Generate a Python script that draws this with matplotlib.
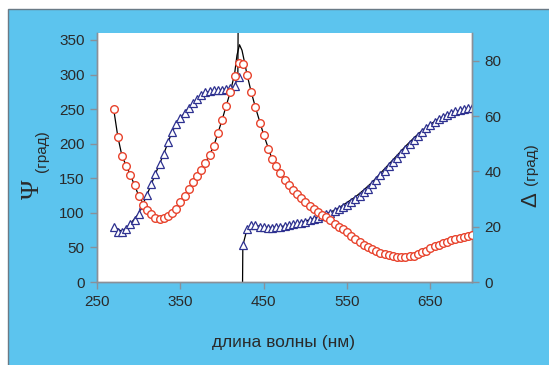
from matplotlib import pyplot as plt
from matplotlib.patches import Rectangle

# measured points, 5 nm step
wl = list(range(270, 705, 5))

psi = [250, 210, 182, 168, 155, 140, 125, 112, 104, 98,
       93, 91, 92, 96, 100, 106, 115, 124, 134, 144,
       153, 162, 172, 184, 196, 215, 234, 255, 275, 298,
       316, 315, 300, 275, 253, 230, 213, 193, 178, 168,
       158, 148, 140, 133, 127, 121, 115, 110, 106, 101,
       97, 93.5, 89, 84, 79.5, 76, 72, 67, 62, 58,
       54, 50.5, 47.5, 44.5, 42, 40, 38.5, 37, 36.5, 35.7,
       36, 37, 38, 40.5, 43, 45.5, 49, 51.5, 54, 56.5,
       58.5, 61, 62, 63.5, 65, 66.5, 67.5]

delta = [80, 73, 73, 77, 84, 90, 99, 111, 126, 142,
         156, 170, 185, 202, 217, 228, 237, 245, 252, 259,
         264, 270, 274, 276, 277, 278, 278, 279, 280, 283,
         296, 53, 76, 82, 82, 80, 79, 78.5, 78.5, 79,
         80, 81, 82, 83.5, 85, 86, 87, 89, 91, 93,
         95, 98, 100, 103, 106, 109, 112, 116, 120, 125,
         130, 135, 141, 147, 154, 160, 167, 173, 180, 186,
         193, 199, 205, 211, 217, 222, 227, 232, 236, 239,
         242, 245, 247, 249, 250, 251, 252]

# model curves
wl_fit_psi = [270, 275, 280, 290, 300, 310, 320, 330, 340, 350,
              360, 370, 380, 390, 400, 410, 415, 418, 421, 424,
              427, 430, 435, 440, 450, 460, 470, 480, 490, 500,
              510, 520, 530, 540, 550, 560, 570, 580, 590, 600,
              610, 620, 630, 640, 650, 660, 670, 680, 690, 700]
psi_fit = [250, 210, 182, 155, 125, 104, 93, 92, 100, 115,
           134, 153, 172, 196, 234, 275, 300, 328, 343, 335,
           318, 300, 275, 253, 213, 178, 158, 140, 127, 115,
           106, 97, 89, 79.5, 72, 62, 54, 47.5, 42, 38.5,
           36.5, 36, 38, 43, 49, 54, 58.5, 62, 65, 67.5]

wl_fit_delta = [270, 280, 290, 300, 310, 320, 330, 340, 350, 360,
                370, 380, 390, 400, 410, 415, 419, 419.4, float('nan'),
                424.6, 425, 430, 440, 450, 460, 470, 480, 490, 500,
                510, 520, 530, 540, 550, 560, 570, 580, 590, 600,
                610, 620, 630, 640, 650, 660, 670, 680, 690, 700]
delta_fit = [80, 73, 84, 99, 126, 156, 185, 217, 237, 252,
             264, 274, 277, 278, 280, 283, 296, 380, float('nan'),
             -10, 53, 76, 82, 79, 79, 80, 82, 85, 88,
             92, 96, 101, 107, 115, 123, 133, 144, 157, 170,
             183, 196, 208, 219, 228, 236, 242, 246, 250, 252]

xticks = [250, 350, 450, 550, 650]
left_ticks = [0, 50, 100, 150, 200, 250, 300, 350]
right_ticks = [0, 20, 40, 60, 80]

plt.rcParams['font.family'] = ['Liberation Sans', 'DejaVu Sans']

fig = plt.figure(figsize=(5.49, 3.65), dpi=100, facecolor='white')
panel = Rectangle((7.5 / 549, -0.01), 1.0, 1.01 - 9.5 / 365,
                  transform=fig.transFigure, facecolor='#5cc4ee',
                  edgecolor='#6a7a86', linewidth=1.0, zorder=-5)
fig.add_artist(panel)

ax = fig.add_axes([97 / 549, 1 - 282 / 365, 375 / 549, 249 / 365])
ax.set_facecolor('white')
ax2 = ax.twinx()

red = '#e8432d'
navy = '#2e3190'

ax.plot(wl_fit_delta, delta_fit, color='black', lw=0.9, zorder=2)
ax.plot(wl_fit_psi, psi_fit, color='black', lw=0.9, zorder=2)
ax.plot(wl, delta, linestyle='none', marker='^', markersize=5.5,
        markerfacecolor='white', markeredgecolor=navy, markeredgewidth=0.9, zorder=3)
# psi on the 0-90 scale of the twin axis
ax2.plot(wl, [p / 4 for p in psi], linestyle='none', marker='o', markersize=5.5,
         markerfacecolor='white', markeredgecolor=red, markeredgewidth=1.0, zorder=3)

ax.set_xlim(250, 700)
ax.set_ylim(0, 360)
ax2.set_ylim(0, 90)
ax.set_xticks(xticks)
ax.set_yticks(left_ticks)
ax2.set_yticks(right_ticks)

for a in (ax, ax2):
    for s in a.spines.values():
        s.set_color('#8a9098')
        s.set_linewidth(1.0)
    a.spines['top'].set_visible(False)
    a.tick_params(colors='#8a9098', labelcolor='#2a2a2a', labelsize=11,
                  length=5, width=1.0, direction='out', pad=4)

fig.text(33 / 549, 1 - 189 / 365, '\u03a8', rotation=90, ha='center', va='center',
         fontsize=19, family=['Liberation Serif', 'DejaVu Serif'], color='#2a2a2a')
fig.text(42 / 549, 1 - 151 / 365, '(град)', rotation=90, ha='center', va='center',
         fontsize=11, color='#2a2a2a')
fig.text(531 / 549, 1 - 200 / 365, '\u0394', rotation=90, ha='center', va='center',
         fontsize=16, color='#2a2a2a')
fig.text(531 / 549, 1 - 164 / 365, '(град)', rotation=90, ha='center', va='center',
         fontsize=11, color='#2a2a2a')
fig.text(284 / 549, 1 - 342 / 365, 'длина волны (нм)', ha='center', va='center',
         fontsize=12.5, color='#2a2a2a')

fig.savefig('out.png', dpi=100, facecolor=fig.get_facecolor())
